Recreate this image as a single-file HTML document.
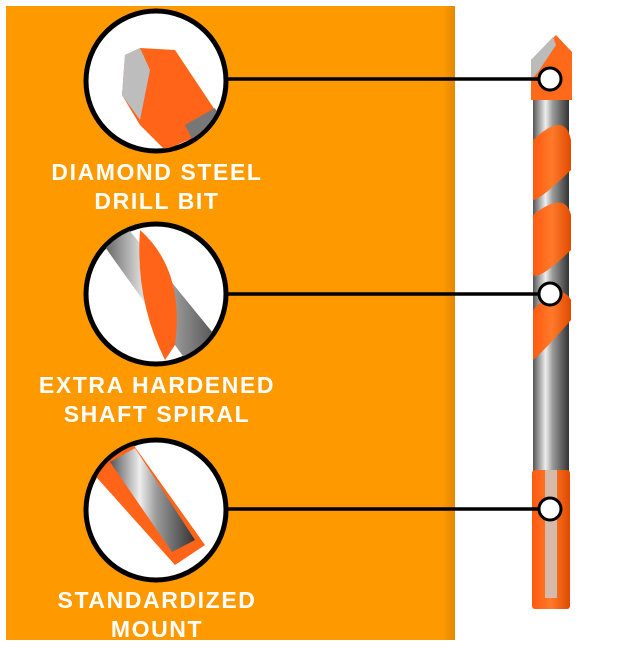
<!DOCTYPE html>
<html><head><style>
html,body{margin:0;padding:0;background:#fff;}
body{width:623px;height:648px;position:relative;overflow:hidden;font-family:"Liberation Sans",sans-serif;}
.t{position:absolute;left:6px;width:302px;text-align:center;color:#fff;font-weight:bold;font-size:23px;letter-spacing:1.6px;line-height:29px;}
</style></head><body>
<svg width="623" height="648" style="position:absolute;left:0;top:0">
<defs>
<linearGradient id="edge" x1="0" x2="1"><stop offset="0" stop-color="#fe9900"/><stop offset="1" stop-color="#e38800"/></linearGradient>
<linearGradient id="steel" x1="0" x2="1"><stop offset="0" stop-color="#555"/><stop offset=".35" stop-color="#eee"/><stop offset=".55" stop-color="#999"/><stop offset="1" stop-color="#333"/></linearGradient>
<linearGradient id="org" x1="0" x2="1"><stop offset="0" stop-color="#ff5a10"/><stop offset=".5" stop-color="#ff7a2a"/><stop offset="1" stop-color="#e04a00"/></linearGradient>
<clipPath id="c1"><circle cx="156" cy="81" r="68"/></clipPath>
<clipPath id="c2"><circle cx="156" cy="294" r="68"/></clipPath>
<clipPath id="c3"><circle cx="156" cy="510" r="68"/></clipPath>
</defs>
<rect x="6" y="6" width="449" height="634" fill="#fe9900"/>
<rect x="443" y="6" width="12" height="634" fill="url(#edge)"/>
<rect x="533" y="80" width="36" height="528" fill="url(#steel)"/>
<path d="M531 60 L556 35 L572 52 L572 100 L531 100 Z" fill="#ff6a1a"/>
<path d="M531 60 L553 37 L556 45 L538 72 L531 80Z" fill="#bbb"/>
<path d="M533 140 Q565 110 571 140 L571 170 Q540 200 533 200Z" fill="url(#org)"/>
<path d="M533 215 Q565 190 571 215 L571 250 Q540 280 533 275Z" fill="url(#org)"/>
<path d="M533 310 Q560 280 571 300 L571 320 Q545 350 533 360Z" fill="url(#org)"/>
<rect x="532" y="470" width="38" height="139" rx="3" fill="url(#org)"/>
<rect x="545" y="470" width="12" height="128" fill="#ccc" opacity=".8"/>
<line x1="225" y1="79" x2="550" y2="79" stroke="#000" stroke-width="3.5"/>
<line x1="225" y1="294" x2="550" y2="294" stroke="#000" stroke-width="3.5"/>
<line x1="225" y1="509" x2="550" y2="509" stroke="#000" stroke-width="3.5"/>
<circle cx="550" cy="79" r="11" fill="#fff" stroke="#000" stroke-width="3"/>
<circle cx="550" cy="294" r="11" fill="#fff" stroke="#000" stroke-width="3"/>
<circle cx="550" cy="509" r="11" fill="#fff" stroke="#000" stroke-width="3"/>
<circle cx="156" cy="81" r="70" fill="#fff" stroke="#000" stroke-width="5"/>
<g clip-path="url(#c1)">
<path d="M125 55 L140 48 L175 50 L215 110 L200 135 L165 150 L140 125 L122 95Z" fill="#ff6418"/>
<path d="M125 55 L140 48 L150 70 L140 120 L122 95Z" fill="#bdbdbd"/>
<path d="M185 125 L215 108 L230 140 L200 155Z" fill="#777"/>
</g>
<circle cx="156" cy="294" r="70" fill="#fff" stroke="#000" stroke-width="5"/>
<g clip-path="url(#c2)">
<path d="M100 240 L125 225 L235 360 L200 380Z" fill="url(#steel)"/>
<path d="M140 230 Q185 270 175 345 L165 360 Q135 300 140 230Z" fill="#ff6418"/>
</g>
<circle cx="156" cy="510" r="70" fill="#fff" stroke="#000" stroke-width="5"/>
<g clip-path="url(#c3)">
<path d="M90 470 L130 440 L205 545 L175 565Z" fill="#ff6418"/>
<path d="M110 462 L135 448 L195 540 L172 552Z" fill="url(#steel)"/>
</g>
</svg>
<div class="t" style="top:158px">DIAMOND STEEL<br>DRILL BIT</div>
<div class="t" style="top:371px">EXTRA HARDENED<br>SHAFT SPIRAL</div>
<div class="t" style="top:586px">STANDARDIZED<br>MOUNT</div>
</body></html>
